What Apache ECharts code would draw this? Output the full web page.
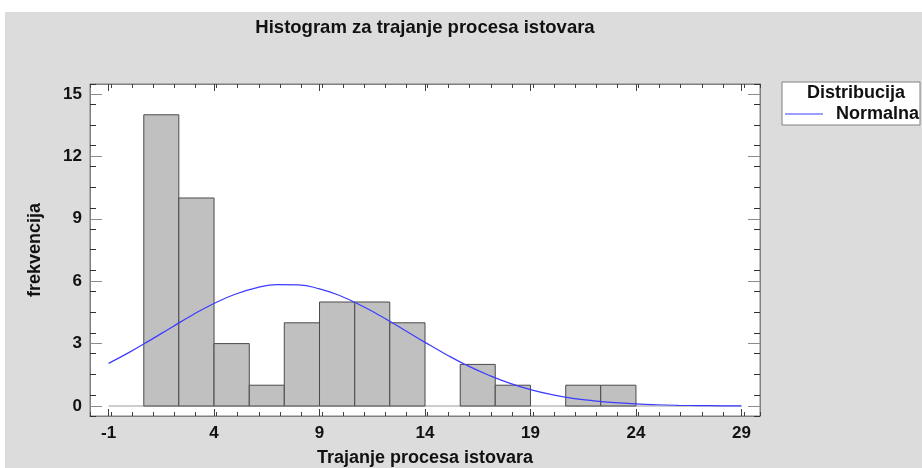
<!DOCTYPE html>
<html><head><meta charset="utf-8">
<script src="https://cdn.jsdelivr.net/npm/echarts@6/dist/echarts.min.js"></script>
<style>html,body{margin:0;padding:0;background:#fff}#c{width:922px;height:468px}</style>
</head><body><div id="c"></div>
<script>
// Histogram bins (edges) and frequencies
const binEdges = [0.67, 2.33, 4.0, 5.67, 7.33, 9.0, 10.67, 12.33, 14.0, 15.67, 17.33, 19.0, 20.67, 22.33, 24.0];
const counts = [14, 10, 3, 1, 4, 5, 5, 4, 0, 2, 1, 0, 1, 1];
// Fitted normal curve
const curveX = [-1, 0, 1, 2, 3, 4, 5, 6, 7, 8, 9, 10, 11, 12, 13, 14, 15, 16, 17, 18, 19, 20, 21, 22, 23, 24, 25, 26, 27, 28, 29];
const curveY = [2.05, 2.59, 3.18, 3.79, 4.39, 4.93, 5.37, 5.68, 5.84, 5.82, 5.63, 5.29, 4.82, 4.27, 3.67, 3.06, 2.48, 1.95, 1.49, 1.10, 0.79, 0.55, 0.37, 0.25, 0.16, 0.10, 0.06, 0.034, 0.019, 0.011, 0.006];
const xTickLabels = [-1, 4, 9, 14, 19, 24, 29];
const yTickLabels = [0, 3, 6, 9, 12, 15];
const baseLine = [[-1, 0], [29, 0]];

const FONT = '"Liberation Sans", Arial, sans-serif';
const X_MIN = -1.88, X_MAX = 29.88, Y_MIN = -0.48, Y_MAX = 15.48;

const histData = counts.map((c, i) => [binEdges[i], binEdges[i + 1], c]);

const chart = echarts.init(document.getElementById('c'), null, {renderer: 'canvas'});

function xAx(pos, major, showLabel, extra) {
  const o = {
    type: 'value', position: pos, min: X_MIN, max: X_MAX,
    axisLine: {show: major, onZero: false, lineStyle: {color: '#808080', width: 1}},
    splitLine: {show: false},
    axisLabel: {show: false},
    axisTick: {show: true, inside: true, length: major ? 7 : 4, lineStyle: {color: '#404040'}}
  };
  if (major) {
    o.axisTick.customValues = xTickLabels;
    if (showLabel) {
      o.axisLabel = {show: true, customValues: xTickLabels, margin: 9, color: '#111',
        fontFamily: FONT, fontWeight: 'bold', fontSize: 17};
    }
  } else {
    o.interval = 1;
  }
  return Object.assign(o, extra || {});
}
function yAx(pos, major, showLabel, extra) {
  const o = {
    type: 'value', position: pos, min: Y_MIN, max: Y_MAX,
    axisLine: {show: major, onZero: false, lineStyle: {color: '#808080', width: 1}},
    splitLine: {show: false},
    axisLabel: {show: false},
    axisTick: {show: true, inside: true, length: major ? 12 : 6,
      lineStyle: {color: major ? '#8c8c8c' : '#303030'}}
  };
  if (major) {
    o.axisTick.customValues = yTickLabels;
    if (showLabel) {
      o.axisLabel = {show: true, customValues: yTickLabels, margin: 8, color: '#111',
        fontFamily: FONT, fontWeight: 'bold', fontSize: 17};
    }
  } else {
    o.interval = 1;
  }
  return Object.assign(o, extra || {});
}

const option = {
  animation: false,
  backgroundColor: '#ffffff',
  graphic: [
    {type: 'rect', z: -10, silent: true, shape: {x: 5, y: 12, width: 917, height: 456}, style: {fill: '#dcdcdc'}},
    {type: 'text', z: 10, style: {x: 425, y: 28, text: 'Histogram za trajanje procesa istovara', textAlign: 'center',
      textVerticalAlign: 'middle', font: 'bold 18.5px ' + FONT, fill: '#111'}},
    {type: 'rect', z: 1, shape: {x: 782, y: 82, width: 138, height: 43}, style: {fill: '#fff', stroke: '#808080', lineWidth: 1}},
    {type: 'text', z: 10, style: {x: 856, y: 93, text: 'Distribucija', textAlign: 'center',
      textVerticalAlign: 'middle', font: 'bold 18px ' + FONT, fill: '#111'}}
  ],
  legend: {
    data: [{name: 'Normalna', icon: 'rect'}], left: 785, top: 105, itemWidth: 38, itemHeight: 1, padding: 0,
    textStyle: {fontFamily: FONT, fontWeight: 'bold', fontSize: 18, color: '#111', padding: [0, 0, 0, 8]},
    z: 20
  },
  grid: {left: 90, right: 162, top: 84, bottom: 52, outerBoundsMode: 'none', containLabel: false,
    show: true, backgroundColor: '#ffffff', borderColor: '#808080', borderWidth: 1},
  xAxis: [
    xAx('bottom', true, true, {name: 'Trajanje procesa istovara', nameLocation: 'middle', nameGap: 33,
      nameTextStyle: {fontFamily: FONT, fontWeight: 'bold', fontSize: 18, color: '#111'}}),
    xAx('bottom', false, false),
    xAx('top', true, false),
    xAx('top', false, false)
  ],
  yAxis: [
    yAx('left', true, true, {name: 'frekvencija', nameLocation: 'middle', nameGap: 46, nameRotate: 90,
      nameTextStyle: {fontFamily: FONT, fontWeight: 'bold', fontSize: 18, color: '#111'}}),
    yAx('left', false, false),
    yAx('right', true, false),
    yAx('right', false, false)
  ],
  series: [
    {
      type: 'custom', name: 'hist', xAxisIndex: 0, yAxisIndex: 0, z: 2,
      data: histData,
      encode: {x: [0, 1], y: 2},
      renderItem: function (params, api) {
        const c = api.value(2);
        if (!c) return null;
        const p0 = api.coord([api.value(0), c]);
        const p1 = api.coord([api.value(1), 0]);
        return {type: 'rect', shape: {x: p0[0], y: p0[1], width: p1[0] - p0[0], height: p1[1] - p0[1]},
          style: {fill: '#c0c0c0', stroke: '#4a4a4a', lineWidth: 1}};
      }
    },
    {
      type: 'line', name: 'base', xAxisIndex: 0, yAxisIndex: 0, z: 1, silent: true, symbol: 'none',
      data: baseLine, lineStyle: {color: '#9a9a9a', width: 1}
    },
    {
      type: 'line', name: 'Normalna', xAxisIndex: 0, yAxisIndex: 0, z: 5, symbol: 'none', smooth: true,
      data: curveX.map((x, i) => [x, curveY[i]]),
      itemStyle: {color: '#3c3cff'},
      lineStyle: {color: '#3c3cff', width: 1.2}
    }
  ]
};
chart.setOption(option);
</script>
</body></html>
